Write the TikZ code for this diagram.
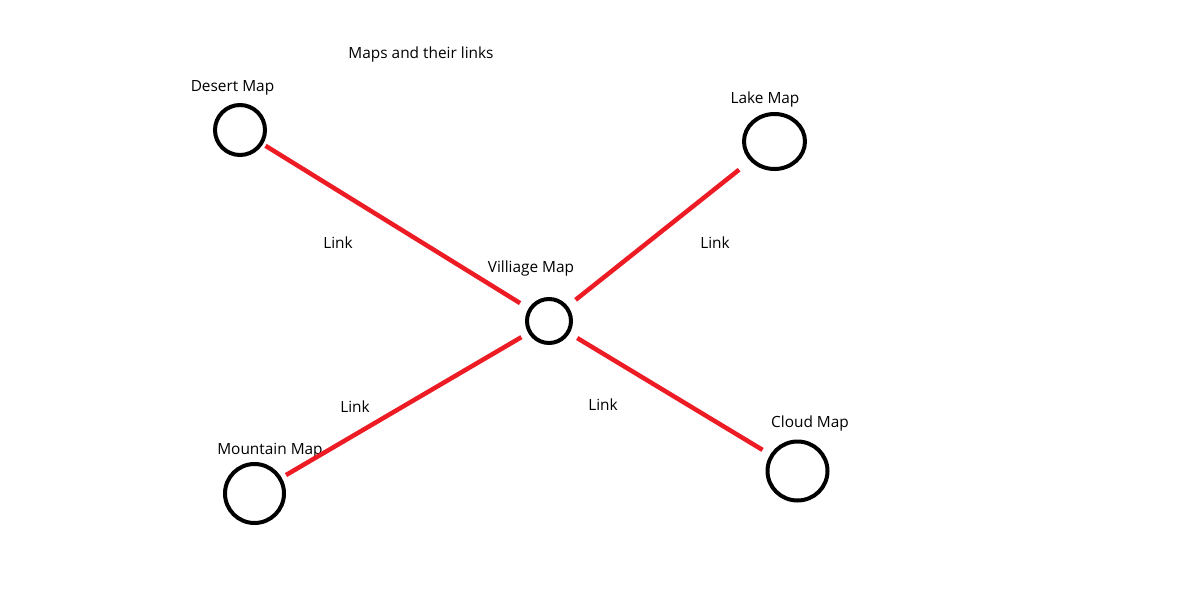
\documentclass[tikz,border=0pt]{standalone}
\usepackage{fontspec}
\setmainfont{Open Sans}
\usepackage{xcolor}
\usepackage{tikz}
\usetikzlibrary{shapes.geometric,positioning}
\definecolor{linkred}{RGB}{237,28,36}

\begin{document}
\begin{tikzpicture}[x=1pt,y=-1pt,
    map/.style={ellipse,draw=black,line width=4pt,inner sep=0pt},
    maplabel/.style={anchor=base,font=\fontsize{15.4}{18}\selectfont},
    link/.style={draw=linkred,line width=4.5pt}]
    \useasboundingbox (0,0) rectangle (1200,600);

    % Title
    \node[maplabel] (title) at (421,58) {Maps and their links};

    % Maps
    \node[map,minimum width=50pt,minimum height=50pt] (desert) at (240,130) {};
    \node[map,minimum width=61pt,minimum height=55pt] (lake) at (774.5,141.5) {};
    \node[map,minimum width=44pt,minimum height=44pt] (village) at (549,321) {};
    \node[map,minimum width=59pt,minimum height=59pt] (mountain) at (254.5,493.5) {};
    \node[map,minimum width=60pt,minimum height=59pt] (cloud) at (797.5,471) {};

    % Map names
    \node[maplabel] (desertname) at (232.5,91) {Desert Map};
    \node[maplabel] (lakename) at (765,103) {Lake Map};
    \node[maplabel] (villagename) at (531,272) {Villiage Map};
    \node[maplabel] (mountainname) at (270,454) {Mountain Map};
    \node[maplabel] (cloudname) at (810,427) {Cloud Map};

    % Links
    \foreach \i/\s/\t in {desert/3/10, lake/14/10, mountain/5/8, cloud/9/9} {
        \draw[link,shorten <=\s pt,shorten >=\t pt] (\i) -- (village);
    }

    % Link labels
    \node[maplabel] (linkdesert) at (338,248) {Link};
    \node[maplabel] (linklake) at (715,248) {Link};
    \node[maplabel] (linkmountain) at (355,412) {Link};
    \node[maplabel] (linkcloud) at (603,410) {Link};
\end{tikzpicture}
\end{document}
